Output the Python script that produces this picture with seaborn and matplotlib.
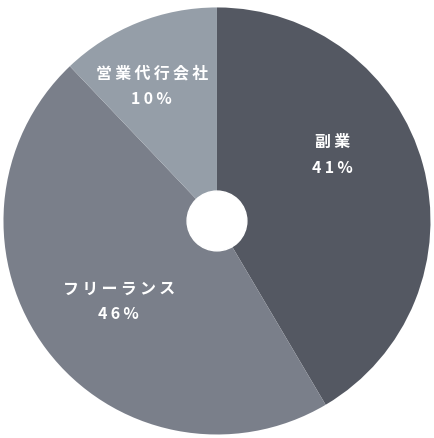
import matplotlib
matplotlib.use("Agg")
import matplotlib.pyplot as plt
import seaborn as sns

# data
categories = ["副業", "フリーランス", "営業代行会社"]
shares = [41.5, 46.4, 12.1]          # wedge sizes as drawn
pct_labels = ["41%", "46%", "10%"]   # printed labels
colors = ["#545862", "#7a7f8a", "#959ea8"]

sns.set_theme(style="white")
plt.rcParams["font.family"] = ["Noto Sans CJK JP", "DejaVu Sans"]


def spaced(s):
    # mimic the letter spacing of the original
    return "\u2009".join(s)


fig = plt.figure(figsize=(4.35, 4.38), dpi=100)
ax = fig.add_axes([0.008, 0.008, 0.9816, 0.975])

ax.pie(shares, colors=colors, startangle=90, counterclock=False,
       radius=1.0, wedgeprops=dict(linewidth=0))
ax.add_patch(plt.Circle((0, 0), 0.14, color="white", zorder=5))

# label anchor points (fraction of radius)
label_pos = [(0.54, 0.31), (-0.46, -0.375), (-0.305, 0.63)]
for cat, pct, (x, y) in zip(categories, pct_labels, label_pos):
    ax.text(x, y + 0.06, spaced(cat), color="white", fontsize=11.5,
            fontweight="bold", ha="center", va="center")
    ax.text(x, y - 0.06, spaced(pct), color="white", fontsize=11.5,
            fontweight="bold", ha="center", va="center")

ax.set_xlim(-1, 1)
ax.set_ylim(-1, 1)
ax.set_aspect("auto")
ax.axis("off")

fig.savefig("out.png", dpi=100, facecolor="white")
